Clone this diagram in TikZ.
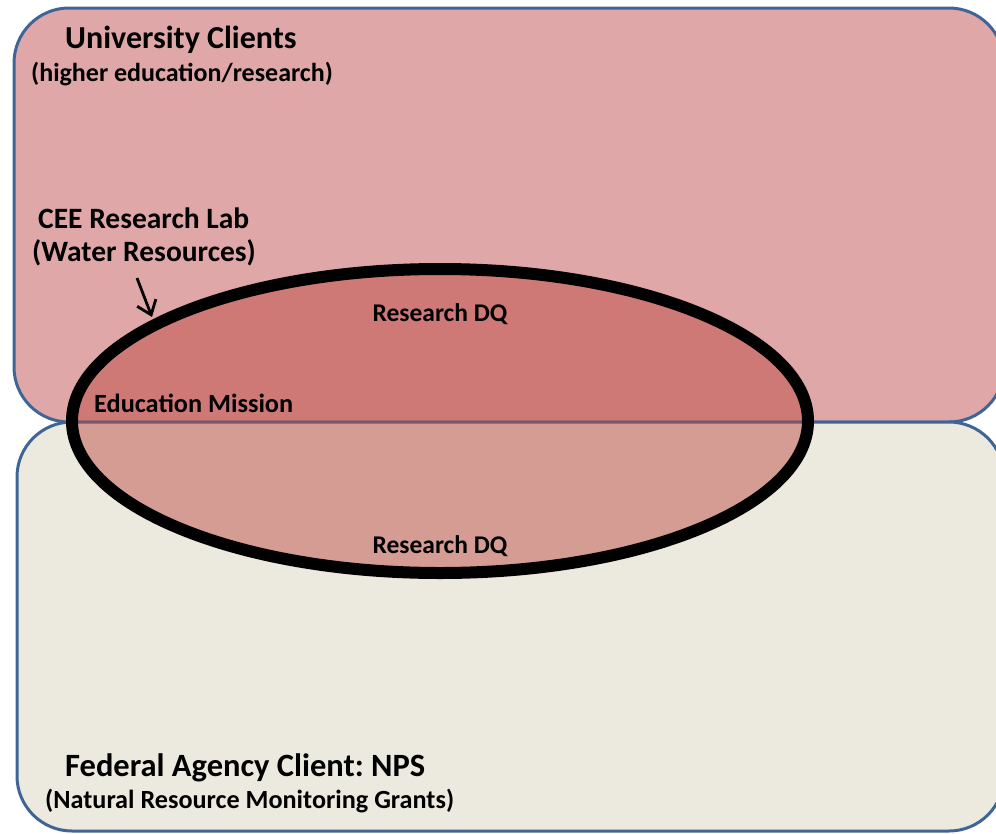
\documentclass[tikz,border=0pt]{standalone}
\usepackage{fontspec}
\setmainfont{Carlito}
\usetikzlibrary{arrows.meta,shapes.geometric}
\definecolor{univfill}{RGB}{223,167,167}
\definecolor{fedfill}{RGB}{236,233,223}
\definecolor{boxline}{RGB}{63,101,151}
\definecolor{labfill}{RGB}{189,71,65}
\frenchspacing
\begin{document}
\begin{tikzpicture}[x=1pt,y=-1pt,
  clientbox/.style={draw=boxline, line width=3pt, rounded corners=55pt},
  lbl/.style={anchor=west, inner sep=0pt, text=black},
  ctr/.style={anchor=center, inner sep=0pt, text=black},
]
\useasboundingbox (0,0) rectangle (996,833);
\clip (0,0) rectangle (996,833);
\draw[clientbox, fill=univfill] (14,8) rectangle (1004,422);
\draw[clientbox, fill=fedfill] (17,422) rectangle (1004,831);
\node[ellipse, draw=black, line width=12pt, fill=labfill, fill opacity=0.47,
  minimum width=736pt, minimum height=304pt, inner sep=0pt, outer sep=0pt]
  (lab) at (440,421) {};
\node[lbl, font=\bfseries\fontsize{32}{34}\selectfont] (univ) at (65,40) {University Clients};
\node[lbl, font=\bfseries\fontsize{26}{28}\selectfont] (univsub) at (31,74.5) {(higher education/research)};
\node[lbl, font=\bfseries\fontsize{29.5}{31}\selectfont] (cee) at (38,218) {CEE Research Lab};
\node[lbl, font=\bfseries\fontsize{29.5}{31}\selectfont] (ceesub) at (32,253) {(Water Resources)};
\node[ctr, font=\bfseries\fontsize{25.5}{27}\selectfont] (rdq1) at (440,314) {Research DQ};
\node[lbl, font=\bfseries\fontsize{26.3}{28}\selectfont] (edu) at (94,403) {Education Mission};
\node[ctr, font=\bfseries\fontsize{25.5}{27}\selectfont] (rdq2) at (440,546) {Research DQ};
\node[lbl, font=\bfseries\fontsize{32.5}{34}\selectfont] (fed) at (65,768) {Federal Agency Client: NPS};
\node[lbl, font=\bfseries\fontsize{26.2}{28}\selectfont] (fedsub) at (45,801) {(Natural Resource Monitoring Grants)};
\coordinate (arrtail) at (137,278);
\coordinate (arrtip) at (152,317);
\draw[line width=2.8pt, -{Straight Barb[length=13pt,width=20pt]}] (arrtail) -- (arrtip);
\end{tikzpicture}
\end{document}
